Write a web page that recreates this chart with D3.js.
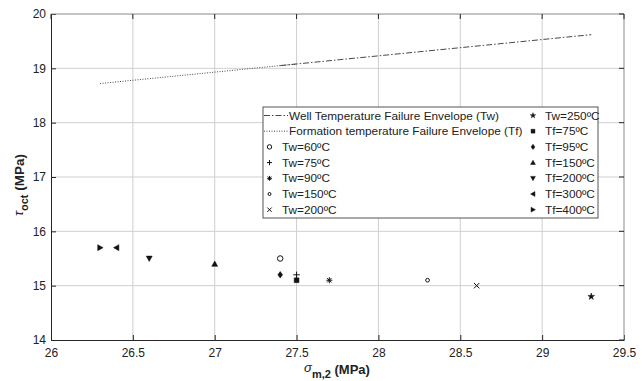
<!DOCTYPE html>
<meta charset="utf-8">
<style>
body { margin: 0; background: #fff; }
text { font-family: "Liberation Sans", Arial, sans-serif; fill: #222; }
.grid line { stroke: #cfcfcf; stroke-width: 1px; }
.env { fill: none; stroke: #333; stroke-width: 0.9px; }
</style>
<body>
<script src="https://d3js.org/d3.v7.min.js"></script>
<script>

// envelope lines
var twEnvX = [27.4, 29.3], twEnvY = [19.05, 19.62];
var tfEnvX = [26.3, 27.5], tfEnvY = [18.72, 19.08];

// well temperature points
var twLabels = ["Tw=60ºC", "Tw=75ºC", "Tw=90ºC", "Tw=150ºC", "Tw=200ºC", "Tw=250ºC"];
var twX = [27.4, 27.5, 27.7, 28.3, 28.6, 29.3];
var twY = [15.5, 15.2, 15.1, 15.1, 15.0, 14.8];
var twMarks = ["o", "+", "*", "o2", "x", "p"];

// formation temperature points
var tfLabels = ["Tf=75ºC", "Tf=95ºC", "Tf=150ºC", "Tf=200ºC", "Tf=300ºC", "Tf=400ºC"];
var tfX = [27.5, 27.4, 27.0, 26.6, 26.4, 26.3];
var tfY = [15.1, 15.2, 15.4, 15.5, 15.7, 15.7];
var tfMarks = ["s", "d", "^", "v", "<", ">"];

var xTicks = [26, 26.5, 27, 27.5, 28, 28.5, 29, 29.5];
var yTicks = [14, 15, 16, 17, 18, 19, 20];

var width = 642, height = 381;
var pL = 51, pR = 624, pT = 14, pB = 340;

var x = d3.scaleLinear().domain([26, 29.5]).range([pL, pR]);
var y = d3.scaleLinear().domain([14, 20]).range([pB, pT]);

var svg = d3.select("body").append("svg")
    .attr("width", width)
    .attr("height", height);

// grid
var grid = svg.append("g").attr("class", "grid");
grid.selectAll(".gx").data(xTicks.slice(1, -1)).enter().append("line")
    .attr("x1", function(d) { return x(d); }).attr("x2", function(d) { return x(d); })
    .attr("y1", pT).attr("y2", pB);
grid.selectAll(".gy").data(yTicks.slice(1, -1)).enter().append("line")
    .attr("y1", function(d) { return y(d); }).attr("y2", function(d) { return y(d); })
    .attr("x1", pL).attr("x2", pR);

// marker shapes (matlab style), s = scale
function markerPath(m, s) {
  var k = function(str) {
    return str.replace(/-?\d+(\.\d+)?/g, function(n) { return (+n * s).toFixed(2); });
  };
  switch (m) {
    case "o": return d3.symbol(d3.symbolCircle, 24 * s * s)();
    case "o2": return d3.symbol(d3.symbolCircle, 11 * s * s)();
    case "+": return k("M-3.2,0H3.2M0,-3.2V3.2");
    case "x": return k("M-2.7,-2.7L2.7,2.7M-2.7,2.7L2.7,-2.7");
    case "*": return k("M-3,0H3M0,-3V3M-2.2,-2.2L2.2,2.2M-2.2,2.2L2.2,-2.2");
    case "p": return d3.symbol(d3.symbolStar, 14 * s * s)();
    case "s": return k("M-2.4,-2.4H2.4V2.4H-2.4Z");
    case "d": return k("M0,-3.3L2.4,0L0,3.3L-2.4,0Z");
    case "^": return k("M0,-3L3,2.4H-3Z");
    case "v": return k("M0,3L3,-2.4H-3Z");
    case "<": return k("M-3,0L2.4,-3V3Z");
    case ">": return k("M3,0L-2.4,-3V3Z");
  }
}
function isOpen(m) { return m == "o" || m == "o2" || m == "+" || m == "x" || m == "*"; }
function drawMarker(g, m, px, py, s) {
  g.append("path")
      .attr("d", markerPath(m, s || 1))
      .attr("transform", "translate(" + px + "," + py + ")")
      .attr("fill", isOpen(m) ? "none" : "#111")
      .attr("stroke", "#111")
      .attr("stroke-width", isOpen(m) ? 1 : 0.5);
}

// envelope lines
var line = d3.line()
    .x(function(d) { return x(d[0]); })
    .y(function(d) { return y(d[1]); });

svg.append("path").attr("class", "env")
    .attr("d", line(d3.zip(tfEnvX, tfEnvY)))
    .attr("stroke-dasharray", "1,1.5");
svg.append("path").attr("class", "env")
    .attr("d", line(d3.zip(twEnvX, twEnvY)))
    .attr("stroke-dasharray", "6,2,1.5,2");

// points
var pts = svg.append("g");
twX.forEach(function(v, i) { drawMarker(pts, twMarks[i], x(v), y(twY[i])); });
tfX.forEach(function(v, i) { drawMarker(pts, tfMarks[i], x(v), y(tfY[i])); });

// axes
var xAxis = svg.append("g")
    .attr("transform", "translate(0," + pB + ")")
    .call(d3.axisBottom(x).tickValues(xTicks).tickSizeInner(-5).tickSizeOuter(0)
      .tickPadding(8).tickFormat(d3.format("")));
var yAxis = svg.append("g")
    .attr("transform", "translate(" + pL + ",0)")
    .call(d3.axisLeft(y).tickValues(yTicks).tickSizeInner(-5).tickSizeOuter(0)
      .tickPadding(5).tickFormat(d3.format("")));
[xAxis, yAxis].forEach(function(a) {
  a.select(".domain").attr("stroke", "#262626");
  a.selectAll(".tick line").attr("stroke", "#262626");
  a.selectAll("text").attr("font-size", "12px").attr("fill", "#222")
      .style("font-family", "'Liberation Sans', Arial, sans-serif");
});
// top and right box
svg.append("path")
    .attr("d", "M" + pL + "," + pT + "H" + pR + "V" + pB)
    .attr("fill", "none").attr("stroke", "#8a8a8a");
xTicks.forEach(function(d) {
  svg.append("line").attr("x1", x(d)).attr("x2", x(d)).attr("y1", pT).attr("y2", pT + 5).attr("stroke", "#262626");
});
yTicks.forEach(function(d) {
  svg.append("line").attr("y1", y(d)).attr("y2", y(d)).attr("x1", pR).attr("x2", pR - 5).attr("stroke", "#262626");
});

// axis labels
var xl = svg.append("text").attr("x", 337).attr("y", 375).attr("text-anchor", "middle")
    .attr("font-size", "13px");
xl.append("tspan").attr("font-style", "italic").attr("dy", -3).text("σ");
xl.append("tspan").attr("font-weight", "bold").attr("font-size", "11px").attr("dy", 6).text("m,2");
xl.append("tspan").attr("font-weight", "bold").attr("dy", -4).text(" (MPa)");

var yl = svg.append("text").attr("transform", "translate(24,185) rotate(-90)")
    .attr("text-anchor", "middle").attr("font-size", "13.5px");
yl.append("tspan").attr("font-style", "italic").attr("dy", -1).text("τ");
yl.append("tspan").attr("font-weight", "bold").attr("font-size", "11px").attr("dy", 5).text("oct");
yl.append("tspan").attr("font-weight", "bold").attr("dy", -4).text(" (MPa)");

// legend
var lg = svg.append("g");
lg.append("rect").attr("x", 263).attr("y", 107).attr("width", 335).attr("height", 111)
    .attr("fill", "#fff").attr("stroke", "#555").attr("stroke-width", 1);
var rowY = function(i) { return 115.5 + i * 15.7; };
var col1 = [
  {label: "Well Temperature Failure Envelope (Tw)", line: "6,2,1.5,2"},
  {label: "Formation temperature Failure Envelope (Tf)", line: "1,1.5"}
];
twLabels.slice(0, 5).forEach(function(t, i) { col1.push({label: t, mark: twMarks[i]}); });
var col2 = [{label: twLabels[5], mark: twMarks[5]}];
tfLabels.forEach(function(t, i) { col2.push({label: t, mark: tfMarks[i]}); });

col1.forEach(function(e, i) {
  var yy = rowY(i);
  if (e.line) {
    lg.append("line").attr("x1", 264).attr("x2", 288).attr("y1", yy).attr("y2", yy)
        .attr("class", "env").attr("stroke-dasharray", e.line);
    lg.append("text").attr("x", 289).attr("y", yy).attr("dy", "0.35em")
        .attr("font-size", "11.8px").text(e.label);
  } else {
    drawMarker(lg, e.mark, 269.5, yy, 0.8);
    lg.append("text").attr("x", 282).attr("y", yy).attr("dy", "0.35em")
        .attr("font-size", "11.8px").text(e.label);
  }
});
col2.forEach(function(e, i) {
  var yy = rowY(i);
  drawMarker(lg, e.mark, 533, yy, 0.8);
  lg.append("text").attr("x", 545).attr("y", yy).attr("dy", "0.35em")
      .attr("font-size", "11.8px").text(e.label);
});

</script>
</body>
